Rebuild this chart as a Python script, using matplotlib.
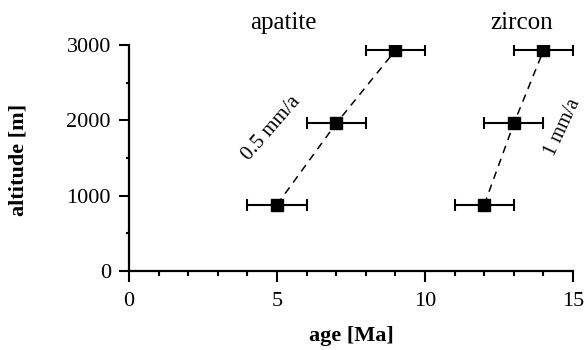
import matplotlib.pyplot as plt
from matplotlib.ticker import MultipleLocator

# age [Ma] and altitude [m] of the samples
apatite_age = [5, 7, 9]
zircon_age = [12, 13, 14]
altitude = [880, 1960, 2930]
age_err = [1, 1, 1]

plt.rcParams['font.family'] = ['Liberation Serif', 'DejaVu Serif']

fig = plt.figure(figsize=(5.86, 3.5), dpi=100)
ax = fig.add_axes([0.22, 0.226, 0.758, 0.645])

for ages in (apatite_age, zircon_age):
    ax.plot(ages, altitude, linestyle=(0, (5, 4)), color='black', lw=1.1, zorder=2)
    ax.errorbar(ages, altitude, xerr=age_err, fmt='s', color='black',
                markersize=9, elinewidth=1.5, capsize=4, capthick=1.5, zorder=3)

ax.set_xlim(0, 15)
ax.set_ylim(0, 3000)
ax.xaxis.set_major_locator(MultipleLocator(5))
ax.xaxis.set_minor_locator(MultipleLocator(1))
ax.yaxis.set_major_locator(MultipleLocator(1000))
ax.yaxis.set_minor_locator(MultipleLocator(500))
ax.tick_params(which='both', width=1.5, labelsize=16, direction='out')
ax.tick_params(axis='x', which='major', length=8, pad=7)
ax.tick_params(axis='x', which='minor', length=3.5)
ax.tick_params(axis='y', which='major', length=7, pad=6)
ax.tick_params(axis='y', which='minor', length=2.5)

for side in ('top', 'right'):
    ax.spines[side].set_visible(False)
for side in ('left', 'bottom'):
    ax.spines[side].set_linewidth(1.6)

ax.set_xlabel('age [Ma]', fontsize=16, fontweight='bold')
ax.set_ylabel('altitude [m]', fontsize=16, fontweight='bold')
ax.xaxis.set_label_coords(0.5, -0.245)
ax.yaxis.set_label_coords(-0.225, 0.49)

ax.text(5.2, 3300, 'apatite', fontsize=18, ha='center', va='center', clip_on=False)
ax.text(13.25, 3300, 'zircon', fontsize=18, ha='center', va='center', clip_on=False)
ax.text(4.8, 1900, '0.5 mm/a', fontsize=15, rotation=49, ha='center', va='center')
ax.text(14.65, 1900, '1 mm/a', fontsize=14.5, rotation=65, ha='center', va='center', clip_on=False)

fig.savefig('out.png', dpi=100)
